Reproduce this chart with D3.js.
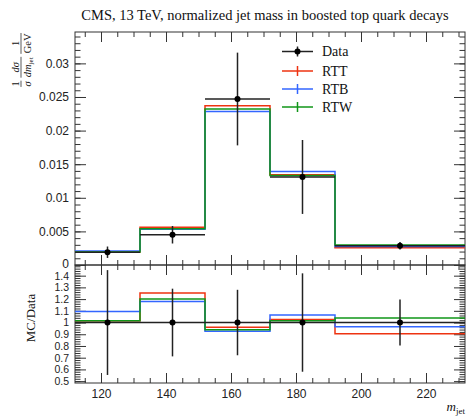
<!DOCTYPE html>
<html>
<head>
<meta charset="utf-8">
<script src="https://cdn.jsdelivr.net/npm/d3@7"></script>
<style>
  body { margin: 0; background: #fff; }
  svg { font-family: 'Liberation Serif', 'DejaVu Serif', serif; }
  .tick line { stroke: #333; }
  .tick text { fill: #222; }
</style>
</head>
<body>
<div id="chart"></div>
<script>
// bins of jet mass (GeV)
const edges = [112, 132, 152, 172, 192, 232]
const dataVals = [0.0019, 0.0045, 0.0247, 0.0131, 0.00285]
const dataErr = [0.00085, 0.0013, 0.0069, 0.0055, 0.00056]
const rttVals = [0.00193, 0.00563, 0.0237, 0.01343, 0.00258]
const rtbVals = [0.00208, 0.00531, 0.02285, 0.01393, 0.00275]
const rtwVals = [0.00193, 0.0054, 0.0232, 0.0133, 0.00296]
const seriesNames = ['RTT', 'RTB', 'RTW']
const seriesColors = ['#EE3311', '#3366FF', '#109618']

const xTicks = [120, 140, 160, 180, 200, 220]
const yTicks = [0, 0.005, 0.01, 0.015, 0.02, 0.025, 0.03]
const ratioTicks = [0.5, 0.6, 0.7, 0.8, 0.9, 1, 1.1, 1.2, 1.3, 1.4]

const width = 466
const height = 418
const frame = { left: 75, right: 465, top: 32, mid: 265, bottom: 383 }

const svg = d3
  .select('#chart')
  .append('svg')
  .attr('width', width)
  .attr('height', height)

const xScale = d3.scaleLinear().domain([112, 232]).range([frame.left, frame.right])
const yScale = d3.scaleLinear().domain([0, 0.03467]).range([frame.mid, frame.top])
const rScale = d3.scaleLinear().domain([0.484, 1.491]).range([frame.bottom, frame.mid])

const series = seriesNames.map((name, i) => ({
  name: name,
  color: seriesColors[i],
  values: [rttVals, rtbVals, rtwVals][i]
}))

const fmt3 = d => String(+d.toFixed(3))
const fmt1 = d => String(+d.toFixed(1))

// ---- axes / ticks, all pointing inside ----
function ticks(axis, transform, values, size, format, fontSize) {
  const g = svg
    .append('g')
    .attr('transform', transform)
    .call(
      axis
        .tickValues(values)
        .tickSize(-size)
        .tickPadding(6)
        .tickFormat(format || '')
    )
  g.select('.domain').remove()
  g.selectAll('text').attr('font-size', fontSize || 12).attr('font-family', null)
  return g
}

const xMinor = d3.range(115, 232, 5)
const yMinor = d3.range(0, 35).map(i => i / 1000)
const rMinor = d3.range(25, 75).map(i => i / 50)

// main panel
ticks(d3.axisTop(xScale), `translate(0,${frame.top})`, xTicks, 10)
ticks(d3.axisTop(xScale), `translate(0,${frame.top})`, xMinor, 5)
ticks(d3.axisBottom(xScale), `translate(0,${frame.mid})`, xTicks, 10)
ticks(d3.axisBottom(xScale), `translate(0,${frame.mid})`, xMinor, 5)
const yAxisG = ticks(d3.axisLeft(yScale), `translate(${frame.left},0)`, yTicks, 11, fmt3)
// nudge the "0" up a little so it clears the ratio panel's top label
yAxisG
  .selectAll('.tick')
  .filter(d => d === 0)
  .select('text')
  .attr('dy', '0.2em')
ticks(d3.axisLeft(yScale), `translate(${frame.left},0)`, yMinor, 5.5)
ticks(d3.axisRight(yScale), `translate(${frame.right},0)`, yTicks, 11)
ticks(d3.axisRight(yScale), `translate(${frame.right},0)`, yMinor, 5.5)

// ratio panel
ticks(d3.axisTop(xScale), `translate(0,${frame.mid})`, xTicks, 10)
ticks(d3.axisTop(xScale), `translate(0,${frame.mid})`, xMinor, 5)
ticks(d3.axisBottom(xScale), `translate(0,${frame.bottom})`, xTicks, 10, d => d)
ticks(d3.axisBottom(xScale), `translate(0,${frame.bottom})`, xMinor, 5)
ticks(d3.axisLeft(rScale), `translate(${frame.left},0)`, ratioTicks, 11, fmt1, 10.5)
ticks(d3.axisLeft(rScale), `translate(${frame.left},0)`, rMinor, 5.5)
ticks(d3.axisRight(rScale), `translate(${frame.right},0)`, ratioTicks, 11)
ticks(d3.axisRight(rScale), `translate(${frame.right},0)`, rMinor, 5.5)

// frames
svg
  .append('rect')
  .attr('x', frame.left)
  .attr('y', frame.top)
  .attr('width', frame.right - frame.left)
  .attr('height', frame.mid - frame.top)
  .attr('fill', 'none')
  .attr('stroke', '#333')
svg
  .append('rect')
  .attr('x', frame.left)
  .attr('y', frame.mid)
  .attr('width', frame.right - frame.left)
  .attr('height', frame.bottom - frame.mid)
  .attr('fill', 'none')
  .attr('stroke', '#333')

// ---- histograms ----
function stepPoints(vals) {
  const pts = vals.map((v, i) => [edges[i], v])
  pts.push([edges[edges.length - 1], vals[vals.length - 1]])
  return pts
}

const mainLine = d3
  .line()
  .curve(d3.curveStepAfter)
  .x(d => xScale(d[0]))
  .y(d => yScale(d[1]))
const ratioLine = d3
  .line()
  .curve(d3.curveStepAfter)
  .x(d => xScale(d[0]))
  .y(d => rScale(d[1]))

series.forEach(s => {
  svg
    .append('path')
    .attr('d', mainLine(stepPoints(s.values)))
    .attr('fill', 'none')
    .attr('stroke', s.color)
    .attr('stroke-width', 1.5)

  const ratios = s.values.map((v, i) => v / dataVals[i])
  svg
    .append('path')
    .attr('d', ratioLine(stepPoints(ratios)))
    .attr('fill', 'none')
    .attr('stroke', s.color)
    .attr('stroke-width', 1.5)
})

// ---- data points ----
const bins = dataVals.map((v, i) => ({
  x0: edges[i],
  x1: edges[i + 1],
  xc: (edges[i] + edges[i + 1]) / 2,
  v: v,
  e: dataErr[i]
}))

function drawData(scale, getV, getE) {
  const g = svg.append('g')
  bins.forEach(b => {
    g.append('line')
      .attr('x1', xScale(b.x0))
      .attr('x2', xScale(b.x1))
      .attr('y1', scale(getV(b)))
      .attr('y2', scale(getV(b)))
      .attr('stroke', '#222')
      .attr('stroke-width', 1.5)
    g.append('line')
      .attr('x1', xScale(b.xc))
      .attr('x2', xScale(b.xc))
      .attr('y1', scale(getV(b) - getE(b)))
      .attr('y2', scale(getV(b) + getE(b)))
      .attr('stroke', '#222')
      .attr('stroke-width', 1.5)
    g.append('circle')
      .attr('cx', xScale(b.xc))
      .attr('cy', scale(getV(b)))
      .attr('r', 3)
      .attr('fill', '#000')
  })
}

drawData(yScale, b => b.v, b => b.e)
drawData(rScale, b => 1, b => b.e / b.v)

// ---- legend ----
const legendY = [51.5, 71, 89, 107]
const legendItems = [{ name: 'Data', color: '#222' }].concat(series)

legendItems.forEach((d, i) => {
  const g = svg.append('g').attr('transform', `translate(282,${legendY[i]})`)
  g.append('line')
    .attr('x1', 0)
    .attr('x2', 31)
    .attr('stroke', d.color)
    .attr('stroke-width', 1.5)
  g.append('line')
    .attr('x1', 15.5)
    .attr('x2', 15.5)
    .attr('y1', -5)
    .attr('y2', 5)
    .attr('stroke', d.color)
    .attr('stroke-width', 1.5)
  if (i === 0) {
    g.append('circle').attr('cx', 15.5).attr('r', 3).attr('fill', '#000')
  }
  g.append('text')
    .text(d.name)
    .attr('x', 40)
    .attr('dy', '0.33em')
    .attr('font-size', 14)
    .attr('fill', '#111')
})

// ---- labels ----
svg
  .append('text')
  .text('CMS, 13 TeV, normalized jet mass in boosted top quark decays')
  .attr('x', 265)
  .attr('y', 20)
  .attr('text-anchor', 'middle')
  .attr('font-size', 14.5)
  .attr('fill', '#111')

const xLabel = svg
  .append('text')
  .attr('x', 465)
  .attr('y', 411)
  .attr('text-anchor', 'end')
  .attr('font-size', 13)
  .attr('fill', '#111')
xLabel.append('tspan').text('m').attr('font-style', 'italic')
xLabel.append('tspan').text('jet').attr('font-size', 9).attr('dy', 3)

svg
  .append('text')
  .text('MC/Data')
  .attr('transform', 'translate(35,318) rotate(-90)')
  .attr('text-anchor', 'middle')
  .attr('font-size', 13)
  .attr('fill', '#111')

// y label: 1/sigma dsigma/dm_jet 1/GeV, rotated, built from small fractions
const yLab = svg.append('g').attr('transform', `translate(21,${frame.top + 1}) rotate(-90)`)
const fracs = [
  { num: [['1', null]], den: [['σ', 'italic']] },
  { num: [['dσ', 'italic']], den: [['dm', 'italic'], ['jet', 'sub']] },
  { num: [['1', null]], den: [['GeV', null]] }
]

function addText(parent, parts, y) {
  const t = parent.append('text').attr('y', y).attr('font-size', 10.5).attr('fill', '#111')
  parts.forEach(p => {
    const ts = t.append('tspan').text(p[0])
    if (p[1] === 'italic') ts.attr('font-style', 'italic')
    if (p[1] === 'sub') ts.attr('font-size', 7).attr('dy', 2)
  })
  return t
}

let cursor = 0
fracs
  .slice()
  .reverse()
  .forEach(f => {
    const g = yLab.append('g')
    const n = addText(g, f.num, -2.5)
    const dd = addText(g, f.den, 9.5)
    const w = Math.max(n.node().getComputedTextLength(), dd.node().getComputedTextLength()) + 1
    const cx = cursor - w / 2
    n.attr('x', cx).attr('text-anchor', 'middle')
    dd.attr('x', cx).attr('text-anchor', 'middle')
    g.append('line')
      .attr('x1', cursor - w)
      .attr('x2', cursor)
      .attr('stroke', '#111')
      .attr('stroke-width', 0.7)
    cursor -= w + 3
  })
</script>
</body>
</html>
